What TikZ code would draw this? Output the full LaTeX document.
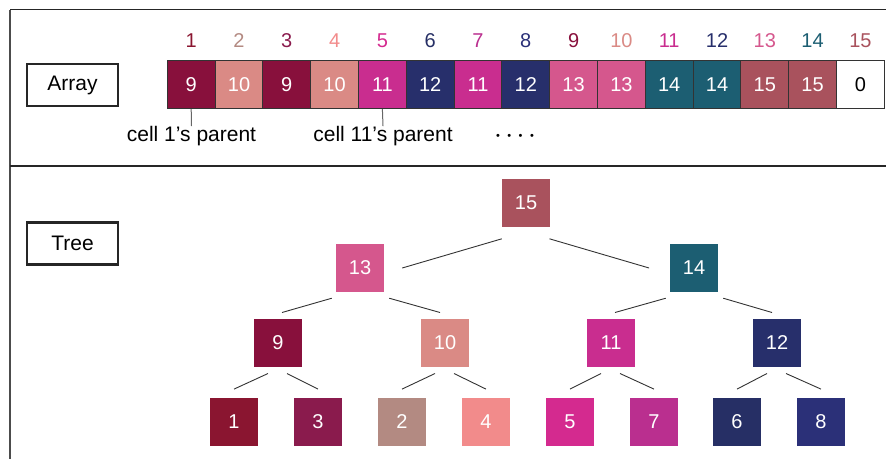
\documentclass[tikz,border=0pt]{standalone}
\usepackage{fontspec}
\setmainfont{Liberation Sans}
\definecolor{cA}{HTML}{8A1530}
\definecolor{cB}{HTML}{B38A82}
\definecolor{cC}{HTML}{8A1B4D}
\definecolor{cD}{HTML}{F28B8B}
\definecolor{cE}{HTML}{D42A8F}
\definecolor{cF}{HTML}{262F65}
\definecolor{cG}{HTML}{BA2F8F}
\definecolor{cH}{HTML}{2B3078}
\definecolor{cI}{HTML}{88103C}
\definecolor{cJ}{HTML}{DA8A85}
\definecolor{cK}{HTML}{C92D8F}
\definecolor{cL}{HTML}{272F6B}
\definecolor{cM}{HTML}{D5578D}
\definecolor{cN}{HTML}{1C5E72}
\definecolor{cO}{HTML}{A9525D}
\tikzset{
  txt/.style={font=\fontsize{20}{24}\selectfont, inner sep=0pt},
  tnode/.style={txt, minimum size=48pt, text=white},
  acell/.style={txt, minimum size=47.8pt, text=white, draw=black!80, line width=1pt},
  lbox/.style={txt, font=\fontsize{21}{24}\selectfont, draw=black!85, line width=2.5pt, minimum width=91pt, minimum height=42pt},
  edge/.style={draw=black!80, line width=0.9pt},
  tick/.style={draw=black!60, line width=1pt},
  frame/.style={line width=1.6pt, draw=black!85}
}
\begin{document}
\begin{tikzpicture}[x=1pt, y=-1pt]
\useasboundingbox (0,0) rectangle (886,459);
% frame
\draw[frame] (886,9.5) -- (10,9.5);
\draw[line width=2pt, draw=black!70] (10,9.5) -- (10,459);
\draw[frame] (10,166) -- (886,166);
% labels
\node[lbox] (arr) at (72.5,85) {Array};
\node[lbox] (tree) at (72.5,243.5) {Tree};
% array cells
\foreach \v/\c [count=\i] in {9/cI,10/cJ,9/cI,10/cJ,11/cK,12/cL,11/cK,12/cL,13/cM,13/cM,14/cN,14/cN,15/cO,15/cO} {
  \node[acell, fill=\c] (a\i) at ({167.3+47.8*(\i-0.5)},84.7) {\v};
}
\node[acell, fill=white, text=black] (a15) at ({167.3+47.8*14.5},84.7) {0};
% indices
\foreach \c [count=\i] in {cA,cB,cC,cD,cE,cF,cG,cH,cI,cJ,cK,cL,cM,cN,cO} {
  \node[txt, text=\c] (i\i) at ({167.3+47.8*(\i-0.5)},40.5) {\i};
}
% annotations
\node[txt, font=\fontsize{21}{24}\selectfont] (p1) at (191.5,136) {cell 1’s parent};
\node[txt, font=\fontsize{21}{24}\selectfont] (p5) at (383,136) {cell 11’s parent};
\draw[tick] (a1.south) -- (p1.north);
\draw[tick] (a5.south) -- (p5.north);
\node[txt, font=\fontsize{11}{12}\selectfont] (dots) at (515,137) {\textbullet\hspace{7.5pt}\textbullet\hspace{7.5pt}\textbullet\hspace{7.5pt}\textbullet};
% tree
\node[tnode, fill=cO] (n15) at (526,203) {15};
\node[tnode, fill=cM] (n13) at (360,268) {13};
\node[tnode, fill=cN] (n14) at (694,268) {14};
\node[tnode, fill=cI] (n9) at (278,343) {9};
\node[tnode, fill=cJ] (n10) at (445,343) {10};
\node[tnode, fill=cK] (n11) at (611,343) {11};
\node[tnode, fill=cL] (n12) at (777,343) {12};
\node[tnode, fill=cA] (n1) at (234,422) {1};
\node[tnode, fill=cC] (n3) at (318,422) {3};
\node[tnode, fill=cB] (n2) at (402,422) {2};
\node[tnode, fill=cD] (n4) at (486,422) {4};
\node[tnode, fill=cE] (n5) at (570,422) {5};
\node[tnode, fill=cG] (n7) at (654,422) {7};
\node[tnode, fill=cF] (n6) at (737,422) {6};
\node[tnode, fill=cH] (n8) at (821,422) {8};
% edges
\draw[edge] ([shift={(0,11.6)}]n15.south west) -- ([shift={(18,0)}]n13.east);
\draw[edge] ([shift={(-0.7,11.6)}]n15.south east) -- ([shift={(-20.7,0)}]n14.west);
\foreach \p/\l/\r in {n13/n9/n10, n14/n11/n12} {
  \draw[edge] ([shift={(-4,6)}]\p.south west) -- ([shift={(4,-6.3)}]\l.north);
  \draw[edge] ([shift={(5,6)}]\p.south east) -- ([shift={(-5,-6.3)}]\r.north);
}
\foreach \p/\l/\r in {n9/n1/n3, n10/n2/n4, n11/n5/n7, n12/n6/n8} {
  \draw[edge] ([shift={(-10,6.3)}]\p.south) -- ([shift={(0,-8.7)}]\l.north);
  \draw[edge] ([shift={(9,6.3)}]\p.south) -- ([shift={(0,-8.7)}]\r.north);
}
\end{tikzpicture}
\end{document}
